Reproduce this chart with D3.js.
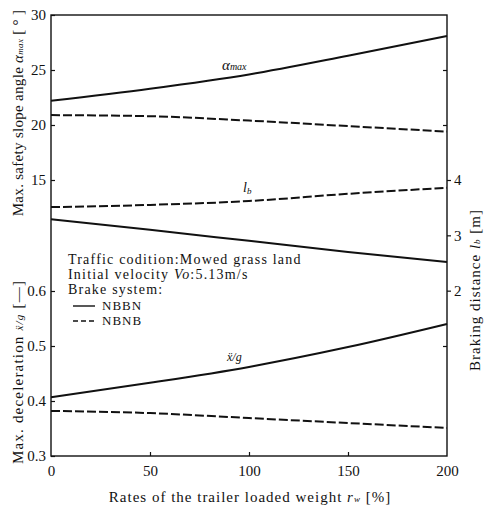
<!DOCTYPE html>
<html><head><meta charset="utf-8">
<script src="https://cdn.jsdelivr.net/npm/d3@7"></script>
<style>body{margin:0;background:#fff}svg{display:block}text{font-family:"Liberation Serif","Times New Roman",serif;fill:#111}</style>
</head><body><svg id="c" width="500" height="508"></svg>
<script>
const rates = [0, 50, 100, 150, 200];
const alphaNBBN = [22.2, 23.3, 24.6, 26.3, 28.1];
const alphaNBNB = [20.9, 20.8, 20.4, 19.9, 19.4];
const lbNBBN = [3.29, 3.10, 2.90, 2.70, 2.52];
const lbNBNB = [3.51, 3.55, 3.62, 3.75, 3.86];
const decelNBBN = [0.407, 0.433, 0.462, 0.498, 0.540];
const decelNBNB = [0.382, 0.378, 0.369, 0.360, 0.351];
const xTicks = [0, 50, 100, 150, 200];
const alphaTicks = [30, 25, 20, 15];
const decelTicks = [0.6, 0.5, 0.4, 0.3];
const lbTicks = [4, 3, 2];

const svg = d3.select("#c");
const L = 51, R = 447, T = 15, B = 456;
const x = d3.scaleLinear().domain([0, 200]).range([L, R]);
const yA = d3.scaleLinear().domain([30, 15]).range([T, 180]);
const yD = d3.scaleLinear().domain([0.6, 0.3]).range([291, B]);
const yL = d3.scaleLinear().domain([4, 1]).range([180, 346]);

svg.append("rect").attr("x", L).attr("y", T).attr("width", R - L).attr("height", B - T)
  .attr("fill", "none").attr("stroke", "#111").attr("stroke-width", 1.4);

const fs = 15;
const gA = svg.append("g").attr("transform", `translate(${L},0)`)
  .call(d3.axisLeft(yA).tickValues(alphaTicks).tickSize(-4).tickPadding(5).tickFormat(d3.format("d")));
const gD = svg.append("g").attr("transform", `translate(${L},0)`)
  .call(d3.axisLeft(yD).tickValues(decelTicks).tickSize(-4).tickPadding(5).tickFormat(d3.format(".1f")));
const gL = svg.append("g").attr("transform", `translate(${R},0)`)
  .call(d3.axisRight(yL).tickValues(lbTicks).tickSize(4).tickPadding(3).tickFormat(d3.format("d")));
const gL2 = svg.append("g").attr("transform", `translate(${R},0)`)
  .call(d3.axisRight(yL).tickValues([1]).tickSize(-4).tickFormat(""));
const gA2 = svg.append("g").attr("transform", `translate(${R},0)`)
  .call(d3.axisRight(yA).tickValues([25, 20]).tickSize(-4).tickFormat(""));
const gX = svg.append("g").attr("transform", `translate(0,${B})`)
  .call(d3.axisBottom(x).tickValues(xTicks).tickSize(-4).tickPadding(9).tickFormat(d3.format("d")));

[gA, gD, gL, gL2, gA2, gX].forEach(g => {
  g.attr("font-family", null);
  g.select(".domain").remove();
  g.selectAll(".tick line").attr("stroke", "#111").attr("stroke-width", 1.2);
  g.selectAll("text").attr("font-size", fs).attr("font-family", "Liberation Serif").attr("fill", "#111");
});
gX.selectAll(".tick").filter(d => d === 0 || d === 200).select("line").remove();

const line = y => d3.line().x((d, i) => x(rates[i])).y(d => y(d)).curve(d3.curveMonotoneX);
const series = [
  [alphaNBBN, yA, false], [alphaNBNB, yA, true],
  [lbNBBN, yL, false], [lbNBNB, yL, true],
  [decelNBBN, yD, false], [decelNBNB, yD, true]
];
series.forEach(([vals, y, dashed]) => {
  svg.append("path").datum(vals).attr("d", line(y))
    .attr("fill", "none").attr("stroke", "#111").attr("stroke-width", 2)
    .attr("stroke-dasharray", dashed ? "9,3" : null);
});

const a = svg.append("text").attr("x", 222).attr("y", 70).attr("font-style", "italic").attr("font-size", 15);
a.append("tspan").text("α");
a.append("tspan").attr("font-size", 10).text("max");
const lb = svg.append("text").attr("x", 243).attr("y", 192).attr("font-style", "italic").attr("font-size", 14);
lb.append("tspan").text("l");
lb.append("tspan").attr("font-size", 9).attr("dy", 2).text("b");
svg.append("text").attr("x", 227).attr("y", 361).attr("font-style", "italic").attr("font-size", 12).text("ẍ/g");

const lx = 68, ls = 1.2, lfs = 14;
svg.append("text").attr("x", lx).attr("y", 264).attr("font-size", lfs).attr("letter-spacing", ls).text("Traffic codition:Mowed grass land");
const iv = svg.append("text").attr("x", lx).attr("y", 279).attr("font-size", lfs).attr("letter-spacing", ls);
iv.append("tspan").text("Initial velocity ");
iv.append("tspan").attr("font-style", "italic").text("Vo");
iv.append("tspan").text(":5.13m/s");
svg.append("text").attr("x", lx).attr("y", 294).attr("font-size", lfs).attr("letter-spacing", ls).text("Brake system:");
[["NBBN", false, 306], ["NBNB", true, 321]].forEach(([t, dashed, yy]) => {
  svg.append("line").attr("x1", 73).attr("x2", 95).attr("y1", yy).attr("y2", yy)
    .attr("stroke", "#111").attr("stroke-width", 1.4).attr("stroke-dasharray", dashed ? "5,3" : null);
  svg.append("text").attr("x", 102).attr("y", yy + 4).attr("font-size", 13).attr("letter-spacing", 1).text(t);
});

const t1 = svg.append("text").attr("transform", "translate(23,113) rotate(-90)").attr("text-anchor", "middle").attr("font-size", fs).attr("letter-spacing", 0.3);
t1.append("tspan").text("Max. safety slope angle ");
t1.append("tspan").attr("font-style", "italic").text("α");
t1.append("tspan").attr("font-style", "italic").attr("font-size", 9).text("max");
t1.append("tspan").text("  [ ° ]");

const t2 = svg.append("text").attr("transform", "translate(23,372) rotate(-90)").attr("text-anchor", "middle").attr("font-size", fs).attr("letter-spacing", 1.2);
t2.append("tspan").text("Max. deceleration ");
t2.append("tspan").attr("font-style", "italic").attr("font-size", 11).text("ẍ/g");
t2.append("tspan").text("  [—]");

const t3 = svg.append("text").attr("transform", "translate(480,290) rotate(-90)").attr("text-anchor", "middle").attr("font-size", fs).attr("letter-spacing", 1);
t3.append("tspan").text("Braking distance  ");
t3.append("tspan").attr("font-style", "italic").text("l");
t3.append("tspan").attr("font-style", "italic").attr("font-size", 9).text("b");
t3.append("tspan").text("  [m]");

const tx = svg.append("text").attr("x", 250).attr("y", 502).attr("text-anchor", "middle").attr("font-size", fs).attr("letter-spacing", 1);
tx.append("tspan").text("Rates of the trailer loaded weight  ");
tx.append("tspan").attr("font-style", "italic").text("r");
tx.append("tspan").attr("font-style", "italic").attr("font-size", 9).text("w");
tx.append("tspan").text(" [%]");
</script></body></html>
